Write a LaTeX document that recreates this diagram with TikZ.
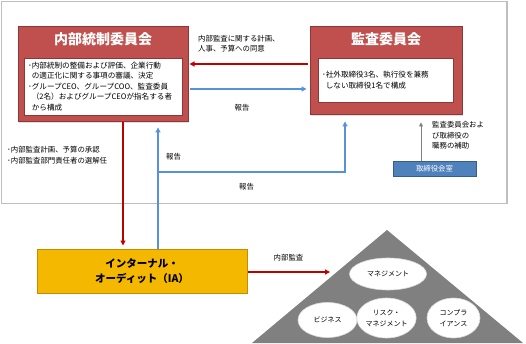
\documentclass[tikz,border=0pt]{standalone}
\usepackage{fontspec}
\setmainfont{Noto Sans CJK JP}
\definecolor{boardred}{HTML}{C0504D}
\definecolor{boardreddark}{HTML}{8C3836}
\definecolor{iagold}{HTML}{F5B800}
\definecolor{iagolddark}{HTML}{BF8F00}
\definecolor{officeblue}{HTML}{4F81BD}
\definecolor{officebluedark}{HTML}{385D8A}
\definecolor{arrowred}{HTML}{C00000}
\definecolor{arrowblue}{HTML}{5591DC}
\definecolor{framegray}{HTML}{BFBFBF}
\definecolor{pyramidgray}{HTML}{808080}
\usetikzlibrary{arrows.meta,shapes.geometric,shadows}

\begin{document}
\begin{tikzpicture}[x=1pt,y=-1pt,
    boxshadow/.style={drop shadow={opacity=0.25,shadow xshift=1pt,shadow yshift=-1pt}},
    redbox/.style={draw=boardreddark,line width=1pt,fill=boardred,boxshadow},
    titletext/.style={text=white,font=\fontsize{14}{16}\selectfont\bfseries},
    innerbox/.style={draw=boardreddark,line width=0.4pt,fill=white,align=left,inner xsep=4pt,font=\fontsize{7.6}{10.6}\selectfont},
    lbl/.style={font=\fontsize{7.4}{10.4}\selectfont,align=left,inner sep=0pt},
    redarrow/.style={draw=arrowred,line width=1.2pt,-{Triangle[length=5pt,width=5pt]}},
    bluearrow/.style={draw=arrowblue,line width=1.2pt,-{Triangle[length=5pt,width=5pt]}},
    grayarrow/.style={draw=pyramidgray,line width=0.8pt,-{Triangle[length=4pt,width=4pt]}},
    layer/.style={ellipse,draw=black!15,line width=0.6pt,fill=white,inner sep=0pt,align=center,font=\fontsize{7}{11}\selectfont}]
  \useasboundingbox (0,0) rectangle (526,344);
  \fill[white] (0,0) rectangle (526,344);
  \draw[framegray,line width=1.6pt] (1.5,1.5) rectangle (507,203.5);

  \node[redbox,minimum width=170pt,minimum height=95pt] (ic) at (103,74.5) {};
  \node[titletext] (ictitle) at (103,39) {内部統制委員会};
  \node[innerbox,text width=150pt,minimum height=57pt] (icbody) at (103,86.5)
    {･内部統制の整備および評価、企業行動\\
     \hspace*{0.5em}の適正化に関する事項の審議、決定\\
     ･グループCEO、グループCOO、監査委員\\
     \hspace*{0.5em}（2名）およびグループCEOが指名する者\\
     \hspace*{0.5em}から構成};

  \node[redbox,minimum width=152pt,minimum height=88pt] (ac) at (386,71) {};
  \node[titletext] (actitle) at (386,39) {監査委員会};
  \node[innerbox,text width=127pt,minimum height=44pt] (acbody) at (385.5,80)
    {･社外取締役3名、執行役を兼務\\
     \hspace*{0.5em}しない取締役1名で構成};

  \node[draw=officebluedark,line width=0.8pt,fill=officeblue,text=white,minimum width=83pt,minimum height=15pt,inner sep=0pt,
    font=\fontsize{7.4}{9}\selectfont,boxshadow] (bd) at (434.5,168.5) {取締役会室};

  \node[draw=iagolddark,line width=1pt,fill=iagold,minimum width=210pt,minimum height=44pt,align=center,
    font=\fontsize{10.5}{15.5}\selectfont\bfseries,boxshadow] (ia) at (142,271) {インターナル・\\オーディット（IA）};

  \fill[pyramidgray] (387,230) -- (523,343) -- (252,343) -- cycle;
  \node[layer,minimum width=77pt,minimum height=32pt] (mgmt) at (388,274) {マネジメント};
  \node[layer,minimum width=59pt,minimum height=35pt] (biz) at (327.5,320) {ビジネス};
  \node[layer,minimum width=53pt,minimum height=40pt] (risk) at (386.5,318) {リスク・\\マネジメント};
  \node[layer,minimum width=53pt,minimum height=40pt] (comp) at (453.5,318) {コンプラ\\イアンス};

  \coordinate (agree) at (0,64);
  \coordinate (report) at (0,89);
  \coordinate (plan) at (123,0);
  \coordinate (up) at (158,172);
  \coordinate (acin) at (345,0);
  \coordinate (assist) at (421,0);
  \coordinate (pyr) at (330,272);

  \draw[redarrow,shorten <=2pt,shorten >=1pt] (ac.west |- agree) -- (ic.east |- agree);
  \draw[bluearrow,shorten <=1pt,shorten >=3pt] (ic.east |- report) -- (ac.west |- report);
  \draw[redarrow,shorten >=3pt] (ic.south -| plan) -- (ia.north -| plan);
  \draw[bluearrow,shorten >=5pt] (ia.north -| up) -- (ic.south -| up);
  \draw[bluearrow,shorten >=6pt] (up) -| (ac.south -| acin);
  \draw[grayarrow,shorten >=7pt] (bd.north -| assist) -- (ac.south -| assist);
  \draw[redarrow] (ia.east |- pyr) -- (pyr);

  \node[lbl,anchor=north west] (agreelbl) at (198,35) {内部監査に関する計画、\\人事、予算への同意};
  \node[lbl] (reportlbl) at (242,108) {報告};
  \node[lbl] (uplbl) at (173.5,157) {報告};
  \node[lbl] (acinlbl) at (246.5,187) {報告};
  \node[lbl,anchor=north west] (planlbl) at (7,146.5) {･内部監査計画、予算の承認\\･内部監査部門責任者の選解任};
  \node[lbl,anchor=north west] (assistlbl) at (432,121.5) {監査委員会およ\\び取締役の\\職務の補助};
  \node[lbl] (pyrlbl) at (288.5,258) {内部監査};
\end{tikzpicture}
\end{document}
